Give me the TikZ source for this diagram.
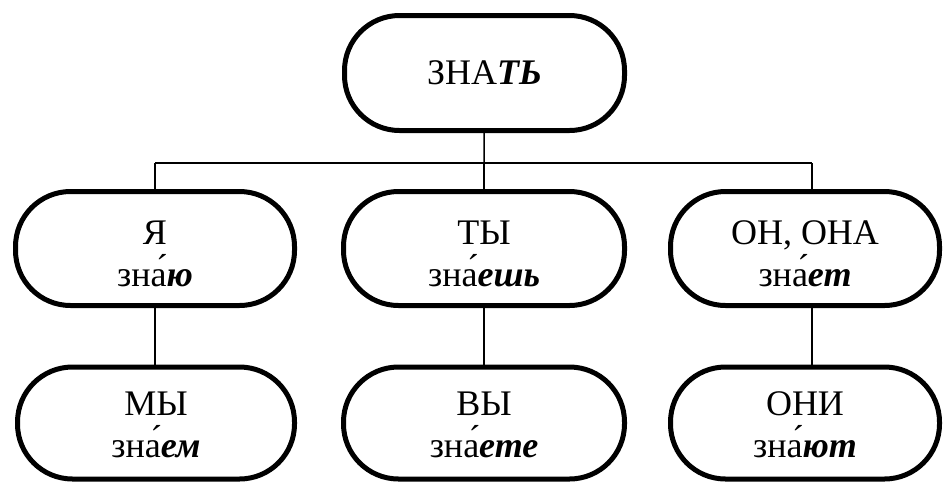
\documentclass[tikz,border=0pt]{standalone}
\usepackage{fontspec}
\setmainfont{Liberation Serif}
\newcommand{\bi}[1]{\textbf{\textit{#1}}}
\begin{document}
\begin{tikzpicture}[x=1pt,y=-1pt,
  pill/.style={draw, line width=5pt, rounded corners=55pt, align=center,
    inner sep=0pt, font=\fontsize{36}{39}\selectfont},
  label/.style={align=center, inner sep=0pt, font=\fontsize{36}{42}\selectfont},
  link/.style={line width=1.5pt}]
\useasboundingbox (0,0) rectangle (944,483);
\node[pill, minimum width=280pt, minimum height=115pt] (top) at (484.5,73) {ЗНА\bi{ТЬ}};
\node[pill, minimum width=279pt, minimum height=114pt] (ya) at (155,248.5) {};
\node[pill, minimum width=281pt, minimum height=114pt] (ty) at (484,248.5) {};
\node[pill, minimum width=269pt, minimum height=114pt] (on) at (805,248.5) {};
\node[pill, minimum width=277pt, minimum height=112pt] (my) at (156,423) {};
\node[pill, minimum width=281pt, minimum height=112pt] (vy) at (484,423) {};
\node[pill, minimum width=269pt, minimum height=112pt] (oni) at (805,423) {};
\node[label] (tya) at ([yshift=-5pt]ya) {Я\\зна́\bi{ю}};
\node[label] (tty) at ([yshift=-5pt]ty) {ТЫ\\зна́\bi{ешь}};
\node[label] (ton) at ([yshift=-5pt]on) {ОН, ОНА\\зна́\bi{ет}};
\node[label] (tmy) at ([yshift=-2pt]my) {МЫ\\зна́\bi{ем}};
\node[label] (tvy) at ([yshift=-2pt]vy) {ВЫ\\зна́\bi{ете}};
\node[label] (toni) at ([yshift=-2pt]oni) {ОНИ\\зна́\bi{ют}};
\coordinate (bl) at (155,163);
\coordinate (bm) at (484,163);
\coordinate (br) at (812,163);
\draw[link] (top) -- (bm);
\draw[link] (bl) -- (br);
\draw[link] (bl) -- (bl |- ya.north);
\draw[link] (bm) -- (bm |- ty.north);
\draw[link] (br) -- (br |- on.north);
\draw[link] (bl |- ya.south) -- (bl |- my.north);
\draw[link] (bm |- ty.south) -- (bm |- vy.north);
\draw[link] (br |- on.south) -- (br |- oni.north);
\end{tikzpicture}
\end{document}
